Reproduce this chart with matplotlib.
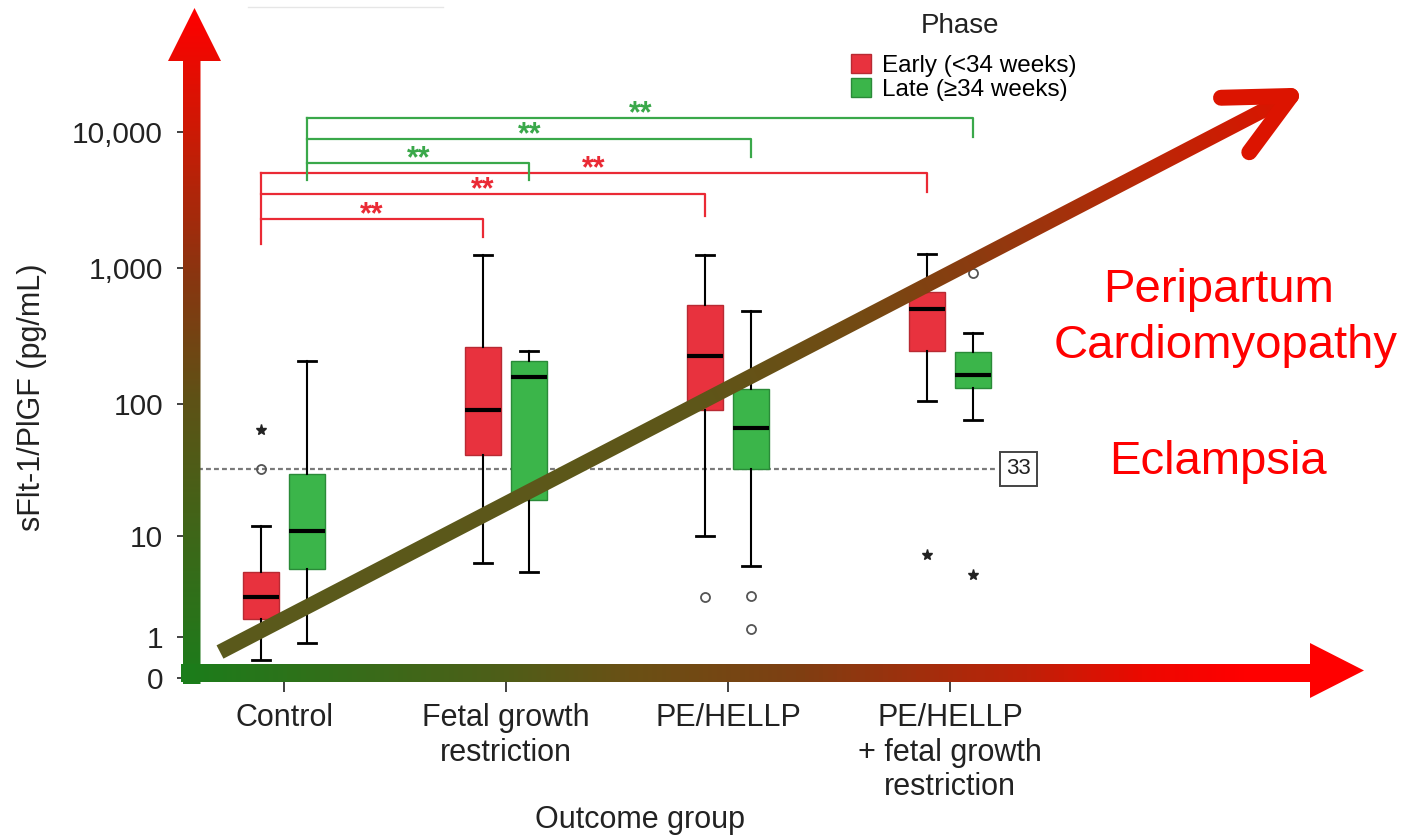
import matplotlib.pyplot as plt
import numpy as np
from matplotlib.colors import LinearSegmentedColormap
from matplotlib.patches import Patch, Polygon
from matplotlib.ticker import NullLocator

plt.rcParams['font.family'] = ['Liberation Sans', 'DejaVu Sans']

groups = ["Control", "Fetal growth\nrestriction", "PE/HELLP",
          "PE/HELLP\n+ fetal growth\nrestriction"]

# box summaries (sFlt-1/PlGF, pg/mL) per outcome group
early_whislo = [0.35, 6, 10, 105]
early_q1 = [1.7, 42, 91, 248]
early_med = [2.9, 91, 228, 505]
early_q3 = [5.0, 265, 540, 670]
early_whishi = [12, 1250, 1250, 1280]
early_circles = [[33], [], [2.9], []]
early_stars = [[64], [], [], [7]]

late_whislo = [0.8, 5, 5.6, 77]
late_q1 = [5.3, 19, 33, 132]
late_med = [11, 159, 67, 165]
late_q3 = [30, 210, 130, 245]
late_whishi = [210, 248, 490, 338]
late_circles = [[], [], [3.0, 1.3], [920]]
late_stars = [[], [], [], [4.7]]

cutoff = 33
y_ticks = [0, 1, 10, 100, 1000, 10000]
y_ticklabels = ["0", "1", "10", "100", "1,000", "10,000"]

# significance brackets vs. control: bar level and end of the drop line
early_sig_top = [2300, 3500, 5000]
early_sig_end = [1700, 2400, 3650]
early_sig_start = 1500
late_sig_top = [5900, 8900, 12600]
late_sig_end = [4450, 6500, 9100]
late_sig_start = 4450

early_color, early_edge = "#e8323e", "#b82a33"
late_color, late_edge = "#3bb54a", "#2a8a38"
sig_red, sig_green = "#ea2a35", "#3aa84a"

W, H = 1408, 839
fig = plt.figure(figsize=(W / 100, H / 100), dpi=100)
ax = fig.add_axes([190 / W, 1 - 680 / H, 808 / W, 660 / H])
ax.set_yscale('function', functions=(lambda v: np.log10(np.maximum(v, -0.999) + 1),
                                     lambda t: 10 ** t - 1))

pos = np.arange(len(groups))
off = 0.105


def make_stats(lo, q1, med, q3, hi, fl):
    return [dict(whislo=a, q1=b, med=c, q3=d, whishi=e, fliers=f)
            for a, b, c, d, e, f in zip(lo, q1, med, q3, hi, fl)]


early_stats = make_stats(early_whislo, early_q1, early_med, early_q3, early_whishi, early_circles)
late_stats = make_stats(late_whislo, late_q1, late_med, late_q3, late_whishi, late_circles)

for stats, x, fc, ec, stars in [(early_stats, pos - off, early_color, early_edge, early_stars),
                                (late_stats, pos + off, late_color, late_edge, late_stars)]:
    ax.bxp(stats, positions=x, widths=0.162, capwidths=0.08, patch_artist=True,
           manage_ticks=False, zorder=3,
           boxprops=dict(facecolor=fc, edgecolor=ec, linewidth=1.0),
           medianprops=dict(color='black', linewidth=3.0, solid_capstyle='butt'),
           whiskerprops=dict(color='black', linewidth=1.5),
           capprops=dict(color='black', linewidth=2.0),
           flierprops=dict(marker='o', markerfacecolor='none', markeredgecolor='#555555',
                           markersize=6.5, markeredgewidth=1.3))
    for xi, vals in zip(x, stars):
        ax.plot([xi] * len(vals), vals, '*', color='#222222', markersize=8, zorder=4)

# diagnostic cut-off
ax.axhline(cutoff, color='#7a7a7a', lw=1.6, ls=(0, (2.2, 1.4)), zorder=1)
ax.annotate(str(cutoff), xy=(1, cutoff), xycoords=ax.get_yaxis_transform(),
            xytext=(15, 0), textcoords='offset points', ha='center', va='center',
            fontsize=16, color='#222222', annotation_clip=False,
            bbox=dict(boxstyle='square,pad=0.28', fc='white', ec='#444444', lw=1.4))

# brackets
for x0, xs, tops, ends, start, col in [(pos[0] - off, pos[1:] - off, early_sig_top, early_sig_end, early_sig_start, sig_red),
                                       (pos[0] + off, pos[1:] + off, late_sig_top, late_sig_end, late_sig_start, sig_green)]:
    ax.plot([x0, x0], [start, max(tops)], color=col, lw=1.6, clip_on=False, zorder=2)
    for x1, top, end in zip(xs, tops, ends):
        ax.plot([x0, x1, x1], [top, top, end], color=col, lw=1.6, clip_on=False, zorder=2)
        ax.annotate('**', xy=((x0 + x1) / 2, top), xytext=(0, -3), textcoords='offset points',
                    ha='center', va='baseline', fontsize=22, fontweight='bold', color=col)

ax.set_xlim(-0.4234, 3.216)
ax.set_ylim(-0.033, 66000)
ax.set_xticks(pos)
ax.set_xticklabels(groups, fontsize=22, color='#222222')
ax.set_yticks(y_ticks)
ax.set_yticklabels(y_ticklabels, fontsize=21.5, color='#222222')
ax.yaxis.set_minor_locator(NullLocator())
ax.tick_params(axis='x', length=8.6, width=1.3, pad=8, color='#333333')
ax.tick_params(axis='y', length=9.4, width=1.3, pad=10, color='#333333')
for s in ax.spines.values():
    s.set_visible(False)

fig.text(32 / W, 1 - 397 / H, "sFlt-1/PlGF (pg/mL)", rotation=90, ha='center', va='center',
         fontsize=22, color='#222222')
fig.text(640 / W, 1 - 820 / H, "Outcome group", ha='center', va='center', fontsize=22, color='#222222')

fig.text(960 / W, 1 - 33 / H, "Phase", ha='center', va='baseline', fontsize=20, color='#222222')
handles = [Patch(facecolor=early_color, edgecolor=early_edge), Patch(facecolor=late_color, edgecolor=late_edge)]
ax.legend(handles, ["Early (<34 weeks)", "Late (≥34 weeks)"],
          loc='upper left', bbox_to_anchor=(851 / W, 1 - 54 / H), bbox_transform=fig.transFigure,
          frameon=False, fontsize=17.5, handlelength=0.82, handleheight=0.8,
          handletextpad=0.45, labelspacing=0.07, borderpad=0, borderaxespad=0)

for txt, xc, yb in [("Peripartum", 1219, 302), ("Cardiomyopathy", 1226, 358), ("Eclampsia", 1218, 474)]:
    fig.text(xc / W, 1 - yb / H, txt, ha='center', va='baseline', fontsize=34, color='#ff0000')

# trend arrows drawn in pixel space on top
ov = fig.add_axes([0, 0, 1, 1], zorder=5)
ov.axis('off')
yy, xx = np.mgrid[0:H, 0:W] + 0.5


def grad_fill(poly, p0, p1, cmap):
    d = np.subtract(p1, p0, dtype=float)
    s = np.clip(((xx - p0[0]) * d[0] + (yy - p0[1]) * d[1]) / d.dot(d), 0, 1)
    patch = Polygon(poly, closed=True, facecolor='none', edgecolor='none')
    ov.add_patch(patch)
    im = ov.imshow(s, cmap=cmap, vmin=0, vmax=1, extent=(0, W, H, 0),
                   interpolation='bilinear', aspect='auto')
    im.set_clip_path(patch)


vert_cmap = LinearSegmentedColormap.from_list('v', [(0, '#1b7d1b'), (0.42, '#5e5216'), (0.61, '#8a3510'),
                                                    (0.82, '#cc1a05'), (1, '#ff0000')])
horz_cmap = LinearSegmentedColormap.from_list('h', [(0, '#1b7d1b'), (0.27, '#4e5e18'), (0.38, '#6a5015'),
                                                    (0.52, '#7e3f12'), (0.72, '#c02008'), (0.82, '#ee0800'),
                                                    (0.9, '#ff0000'), (1, '#ff0000')])
diag_cmap = LinearSegmentedColormap.from_list('d', [(0, '#5a5a1c'), (0.45, '#5e5619'), (0.6, '#744a13'),
                                                    (0.7, '#8a3c10'), (0.85, '#b52a08'), (1, '#dc1400')])

grad_fill([(183, 684), (183, 61), (168, 61), (194.5, 8), (221, 61), (200.5, 61), (200.5, 684)],
          (190, 684), (190, 10), vert_cmap)
grad_fill([(181, 664), (1310, 664), (1310, 643), (1364, 670.5), (1310, 698), (1310, 682), (181, 682)],
          (181, 673), (1364, 673), horz_cmap)

p0 = np.array([220.0, 652.0])
tip = np.array([1291.0, 96.0])
d = (tip - p0) / np.linalg.norm(tip - p0)
n = np.array([-d[1], d[0]])
pend = tip - d * 6
hw = 7.5
grad_fill([p0 + n * hw, pend + n * hw, pend - n * hw, p0 - n * hw], p0, tip, diag_cmap)
for ang in (26, -26):
    a = np.deg2rad(ang)
    back = -d
    r = np.array([back[0] * np.cos(a) - back[1] * np.sin(a), back[0] * np.sin(a) + back[1] * np.cos(a)])
    end = tip + r * 70
    ov.plot([tip[0], end[0]], [tip[1], end[1]], color='#dc1400', lw=11.5, solid_capstyle='round')

ov.plot([248, 443], [7, 7], color='#e6e6e6', lw=1)
ov.set_xlim(0, W)
ov.set_ylim(H, 0)

fig.savefig("out.png", dpi=100)
